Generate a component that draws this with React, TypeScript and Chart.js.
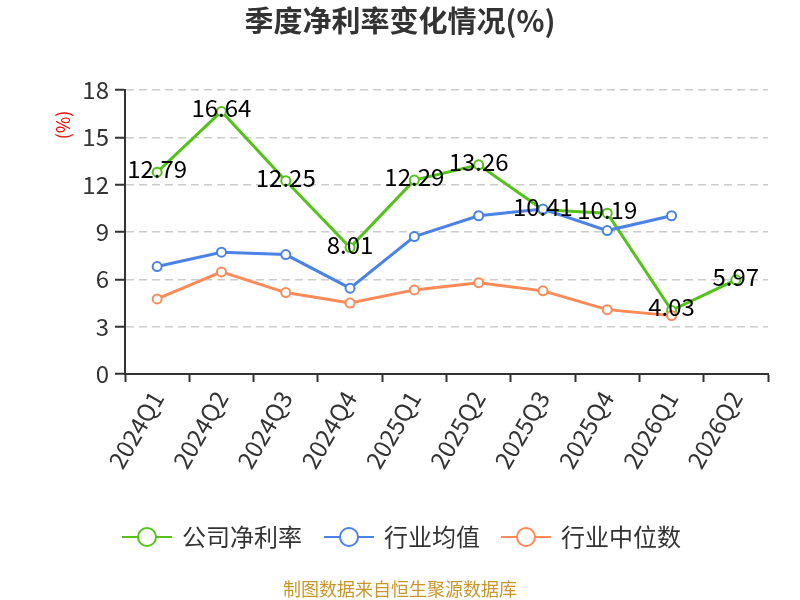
import { useEffect, useRef } from "react"
import { Chart, registerables } from "chart.js"

Chart.register(...registerables)

const FONT = "'Noto Sans CJK SC', 'Noto Sans', sans-serif"

const title = "季度净利率变化情况(%)"
const source = "制图数据来自恒生聚源数据库"
const yTitle = "(%)"

const quarters = [
  "2024Q1", "2024Q2", "2024Q3", "2024Q4", "2025Q1",
  "2025Q2", "2025Q3", "2025Q4", "2026Q1", "2026Q2",
]
const companyMargin = [12.79, 16.64, 12.25, 8.01, 12.29, 13.26, 10.41, 10.19, 4.03, 5.97]
const industryMean = [6.81, 7.72, 7.57, 5.44, 8.71, 10.03, 10.45, 9.09, 10.03, null]
const industryMedian = [4.76, 6.47, 5.16, 4.5, 5.33, 5.79, 5.27, 4.08, 3.7, null]
const yTicks = [0, 3, 6, 9, 12, 15, 18]

const seriesNames = ["公司净利率", "行业均值", "行业中位数"]
const seriesColors = ["#55c21b", "#4a82e6", "#ff8a58"]

// titles, legend and source line drawn straight on the canvas
const overlayPlugin = {
  id: "overlay",
  afterDraw(chart: Chart) {
    const ctx = chart.ctx
    ctx.save()

    ctx.fillStyle = "#333"
    ctx.font = `bold 29px ${FONT}`
    ctx.textAlign = "center"
    ctx.textBaseline = "middle"
    ctx.fillText(title, 400, 21)

    ctx.save()
    ctx.translate(63, 125)
    ctx.rotate(-Math.PI / 2)
    ctx.fillStyle = "#ff0000"
    ctx.font = `18px ${FONT}`
    ctx.fillText(yTitle, 0, 0)
    ctx.restore()

    // legend
    const legendY = 537
    const starts = [122, 324, 501]
    ctx.font = `24px ${FONT}`
    ctx.textAlign = "left"
    seriesNames.forEach((name, i) => {
      const x0 = starts[i]
      ctx.strokeStyle = seriesColors[i]
      ctx.lineWidth = 2
      ctx.beginPath()
      ctx.moveTo(x0, legendY)
      ctx.lineTo(x0 + 50, legendY)
      ctx.stroke()
      ctx.beginPath()
      ctx.arc(x0 + 25, legendY, 9, 0, Math.PI * 2)
      ctx.fillStyle = "#fff"
      ctx.fill()
      ctx.stroke()
      ctx.fillStyle = "#333"
      ctx.fillText(name, x0 + 60, legendY)
    })

    ctx.fillStyle = "#c9962c"
    ctx.font = `18px ${FONT}`
    ctx.textAlign = "center"
    ctx.fillText(source, 400, 589)

    ctx.restore()
  },
}

// value labels for the company series
const labelPlugin = {
  id: "valueLabels",
  afterDatasetsDraw(chart: Chart) {
    const ctx = chart.ctx
    const meta = chart.getDatasetMeta(0)
    ctx.save()
    ctx.fillStyle = "#000"
    ctx.font = `24px ${FONT}`
    ctx.textAlign = "center"
    ctx.textBaseline = "alphabetic"
    meta.data.forEach((pt, i) => {
      const v = companyMargin[i]
      if (v == null) return
      ctx.fillText(v.toFixed(2), pt.x, pt.y + 6)
    })
    ctx.restore()
  },
}

export default function App() {
  const chartRef = useRef<HTMLCanvasElement>(null)
  const chartInstance = useRef<Chart | null>(null)

  useEffect(() => {
    document.body.style.margin = "0"
    if (!chartRef.current) return
    if (chartInstance.current) chartInstance.current.destroy()

    const ctx = chartRef.current.getContext("2d")
    if (!ctx) return

    const series = [companyMargin, industryMean, industryMedian]

    chartInstance.current = new Chart(ctx, {
      type: "line",
      data: {
        labels: quarters,
        datasets: series.map((data, i) => ({
          label: seriesNames[i],
          data,
          borderColor: seriesColors[i],
          backgroundColor: "#fff",
          pointBackgroundColor: "#fff",
          pointBorderColor: seriesColors[i],
          pointBorderWidth: 2,
          pointRadius: 4.5,
          borderWidth: 3,
          tension: 0,
          order: 3 - i,
        })),
      },
      options: {
        responsive: false,
        animation: false,
        layout: { padding: { left: 0, right: 32, top: 90, bottom: 0 } },
        plugins: {
          legend: { display: false },
          title: { display: false },
          tooltip: { enabled: false },
        },
        scales: {
          x: {
            type: "category",
            offset: true,
            grid: {
              offset: true,
              drawOnChartArea: false,
              drawTicks: true,
              tickLength: 8,
              tickColor: "#333",
              tickWidth: 2,
            },
            border: { display: true, color: "#333", width: 2 },
            ticks: {
              color: "#333",
              font: { family: FONT, size: 24 },
              minRotation: 60,
              maxRotation: 60,
              autoSkip: false,
              padding: 4,
            },
            afterFit: (scale) => {
              scale.height = 226
            },
          },
          y: {
            min: 0,
            max: 18,
            afterBuildTicks: (scale) => {
              scale.ticks = yTicks.map((value) => ({ value }))
            },
            grid: {
              color: (c) => (c.tick && c.tick.value === 0 ? "rgba(0,0,0,0)" : "#cccccc"),
              lineWidth: 1.5,
              tickColor: "#333",
              tickLength: 10,
              tickWidth: 2,
            },
            border: { display: true, color: "#333", width: 2, dash: [8, 5] },
            ticks: {
              color: "#333",
              font: { family: FONT, size: 24 },
              padding: 6,
            },
            afterFit: (scale) => {
              scale.width = 125
            },
          },
        },
      },
      plugins: [labelPlugin, overlayPlugin],
    })

    return () => {
      if (chartInstance.current) {
        chartInstance.current.destroy()
        chartInstance.current = null
      }
    }
  }, [])

  return (
    <div style={{ width: 800, height: 600 }}>
      <canvas ref={chartRef} width={800} height={600} />
    </div>
  )
}
